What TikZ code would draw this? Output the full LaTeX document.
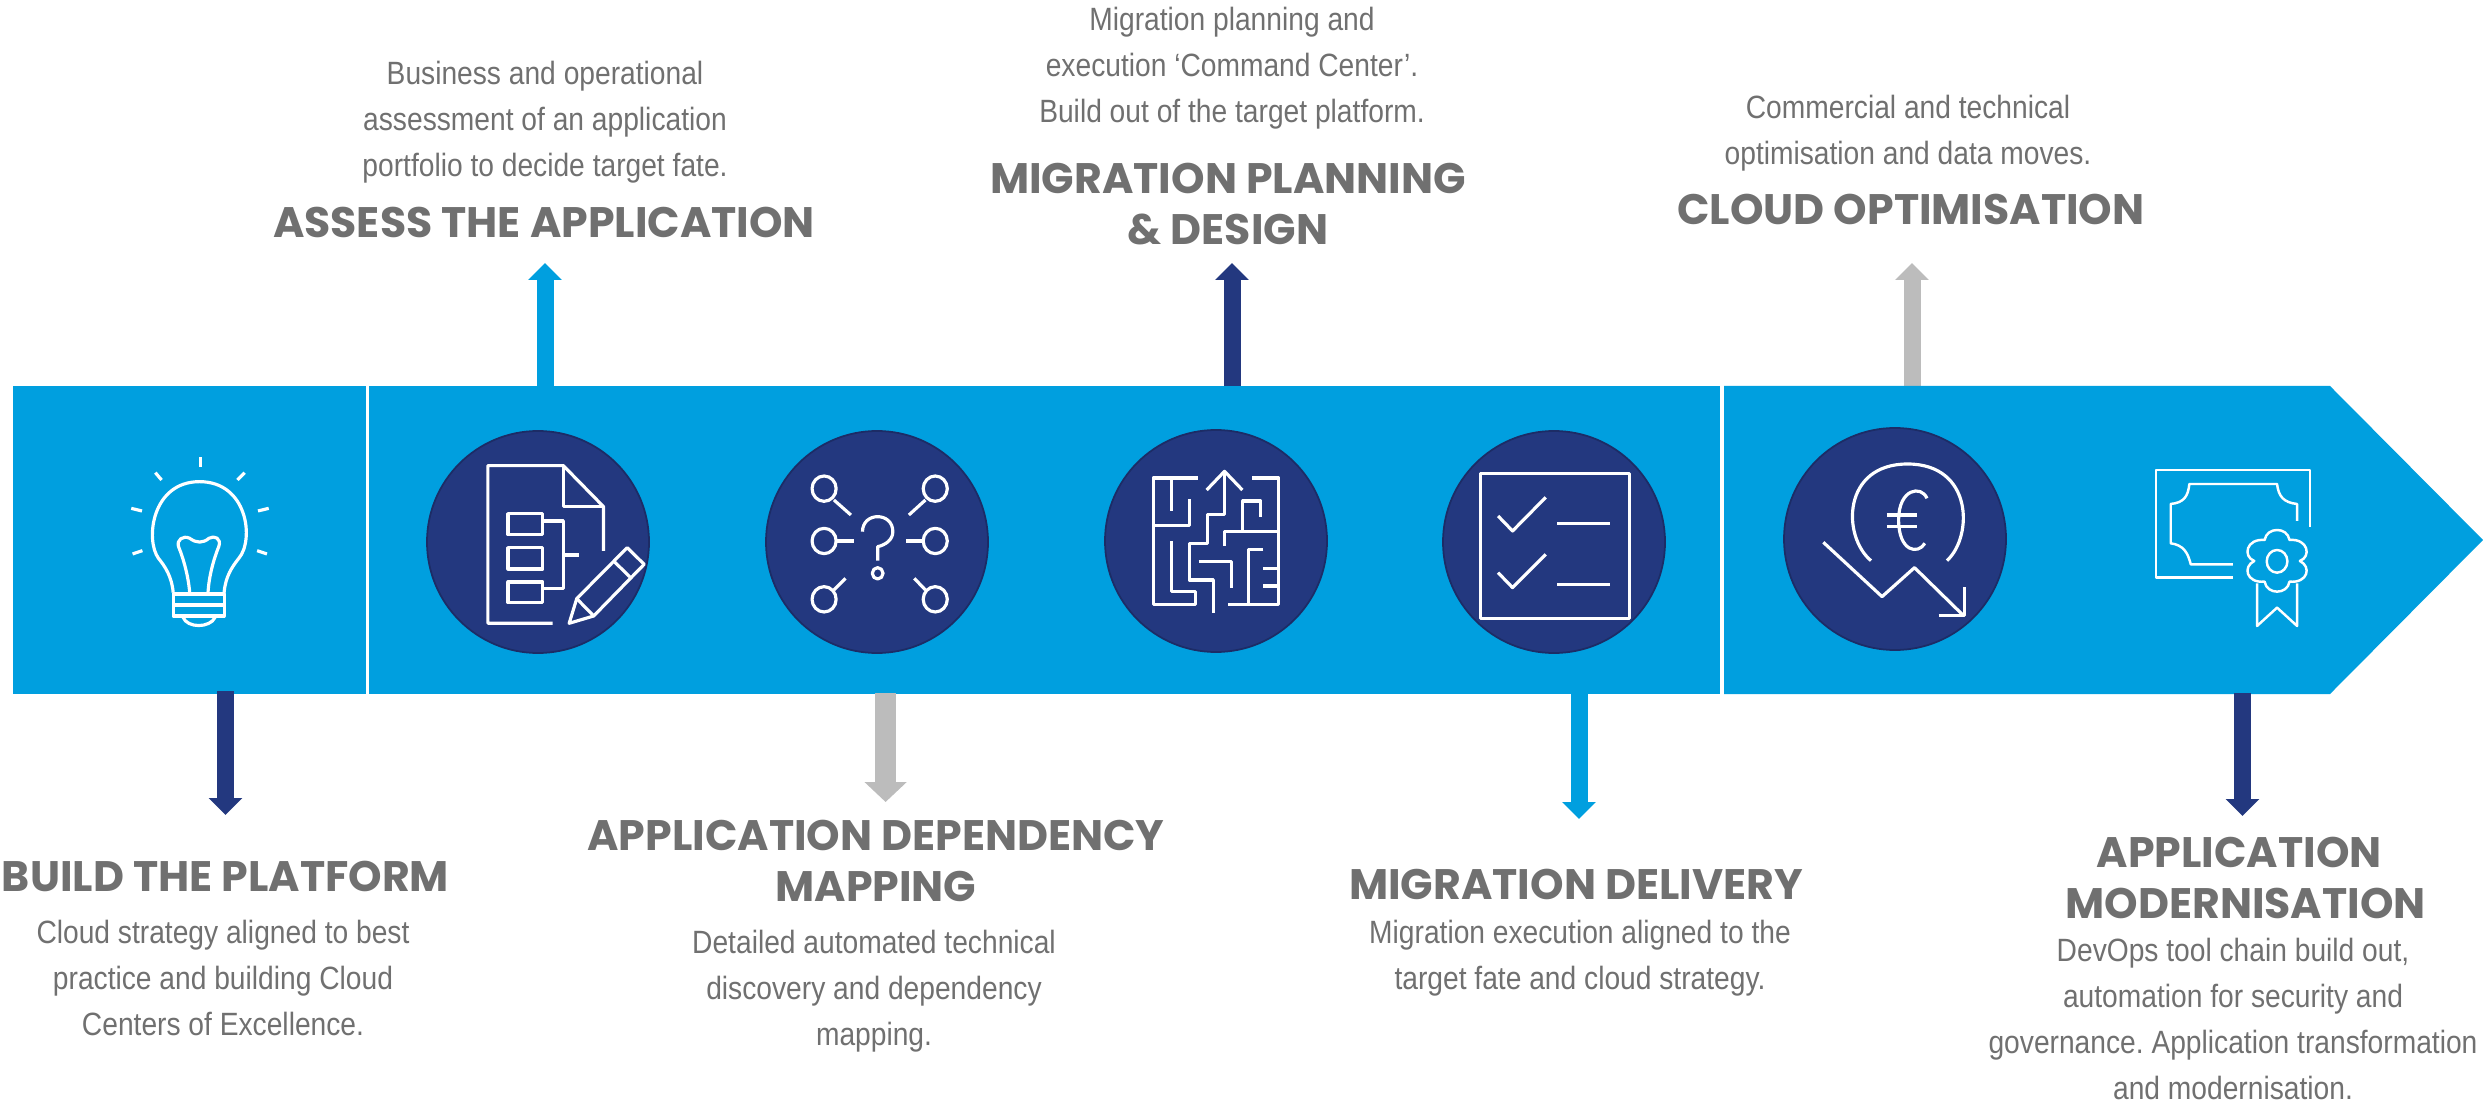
\documentclass[tikz,border=0pt]{standalone}
\usepackage{fontspec}
\newfontfamily\bodyfont[FakeStretch=0.875]{Liberation Sans}
\newfontfamily\headfont{Poppins}
\usetikzlibrary{arrows.meta}
\frenchspacing
\definecolor{bannerblue}{HTML}{009FDF}
\definecolor{deepblue}{HTML}{23387F}
\definecolor{deepedge}{HTML}{1C2C66}
\definecolor{stemgrey}{HTML}{BCBCBC}
\definecolor{textgrey}{HTML}{707070}
\tikzset{
	iconline/.style={white, line width=2.7pt, line join=round},
	thinline/.style={line width=2.1pt},
	iconcircle/.style={circle, minimum size=6.66cm, inner sep=0pt, fill=deepblue, draw=deepedge, line width=1.5pt},
	headline/.style={align=center, text=textgrey, font=\headfont\bfseries\fontsize{36.4}{44}\selectfont},
	bodyline/.style={align=center, text=textgrey, font=\bodyfont\fontsize{27.5}{39}\selectfont},
	stem/.style={line width=14.5pt, -{Triangle[length=14.5pt, width=28pt]}},
	widestem/.style={line width=17.5pt, -{Triangle[length=17pt, width=35pt]}},
}
\begin{document}
\begin{tikzpicture}[x=0.03cm, y=-0.03cm]
			%%%%% START %%%%%
			\useasboundingbox (0, 0) rectangle (2483, 1103);

			\coordinate (buildroot) at (225.5, 691);
			\coordinate (buildtip) at (225.5, 815);
			\coordinate (assessroot) at (545, 390);
			\coordinate (assesstip) at (545, 263);
			\coordinate (dependroot) at (885.6, 693);
			\coordinate (dependtip) at (885.6, 802);
			\coordinate (planroot) at (1232, 390);
			\coordinate (plantip) at (1232, 263);
			\coordinate (deliveryroot) at (1579, 693);
			\coordinate (deliverytip) at (1579, 819);
			\coordinate (cloudroot) at (1912, 390);
			\coordinate (cloudtip) at (1912, 263);
			\coordinate (modernroot) at (2242.5, 693);
			\coordinate (moderntip) at (2242.5, 816);

			\draw[stem, bannerblue] (assessroot) -- (assesstip);
			\draw[stem, deepblue] (planroot) -- (plantip);
			\draw[stem, stemgrey] (cloudroot) -- (cloudtip);

			\fill[bannerblue] (13, 386) rectangle (366, 694);
			\fill[bannerblue] (369, 386) rectangle (1720, 694);
			\fill[bannerblue] (1724, 386) -- (2330, 386) -- (2483, 540) -- (2330, 694) -- (1724, 694) -- cycle;

			\draw[stem, deepblue] (buildroot) -- (buildtip);
			\draw[widestem, stemgrey] (dependroot) -- (dependtip);
			\draw[stem, bannerblue] (deliveryroot) -- (deliverytip);
			\draw[stem, deepblue] (modernroot) -- (moderntip);

			\node[iconcircle] (assessicon) at (538, 542) {};
			\node[iconcircle] (dependicon) at (877, 542) {};
			\node[iconcircle] (planicon) at (1216, 541) {};
			\node[iconcircle] (deliveryicon) at (1554, 542) {};
			\node[iconcircle] (cloudicon) at (1895, 539) {};

			% lamp and document
			\begin{scope}[shift={(0, 370)}, xscale=0.4464, yscale=0.3333, iconline]
				\draw (450, 262) -- (450, 290);
				\draw (348, 308) -- (362, 330);
				\draw (548, 308) -- (532, 330);
				\draw (294, 415) -- (318, 423);
				\draw (602, 415) -- (578, 423);
				\draw (297, 552) -- (319, 542);
				\draw (598, 552) -- (576, 542);
				\draw (388, 668) .. controls (385, 620) and (370, 590) .. (355, 565) .. controls (325, 510) and (340, 335) .. (447, 335) .. controls (555, 335) and (570, 510) .. (535, 565) .. controls (520, 590) and (505, 620) .. (502, 668);
				\draw (425, 668) .. controls (422, 620) and (412, 570) .. (400, 530) .. controls (395, 510) and (410, 495) .. (425, 505) .. controls (440, 520) and (455, 520) .. (468, 505) .. controls (480, 495) and (497, 505) .. (490, 530) .. controls (478, 570) and (468, 620) .. (466, 668);
				\draw (388, 672) -- (502, 672) -- (502, 738) -- (388, 738) -- cycle;
				\draw (388, 705) -- (502, 705);
				\draw (410, 742) .. controls (420, 775) and (470, 775) .. (482, 742);

				\draw (1238, 760) -- (1093, 760) -- (1093, 287) -- (1262, 287) -- (1352, 410) -- (1352, 543);
				\draw (1262, 287) -- (1262, 410) -- (1352, 410);
				\draw (1138, 431) rectangle (1216, 494);
				\draw (1138, 533) rectangle (1216, 597);
				\draw (1138, 636) rectangle (1216, 698);
				\draw (1216, 453) -- (1262, 453) -- (1262, 656) -- (1216, 656);
				\draw (1262, 555) -- (1298, 555);
				\draw (1275, 760) -- (1292, 686) -- (1405, 533) -- (1443, 583) -- (1330, 738) -- cycle;
				\draw (1292, 686) -- (1330, 738);
				\draw (1376, 575) -- (1412, 622);
			\end{scope}

			% lenses and maze
			\begin{scope}[shift={(700, 370)}, xscale=0.4464, yscale=0.3333, iconline]
				\foreach \lensx/\lensy in {278/356, 527/356, 278/513, 527/513, 278/688, 527/688}
					\draw (\lensx, \lensy) ellipse [x radius=27, y radius=38];
				\draw (300, 390) -- (338, 435);
				\draw (505, 390) -- (468, 435);
				\draw (305, 513) -- (345, 513);
				\draw (500, 513) -- (462, 513);
				\draw (300, 660) -- (326, 625);
				\draw (505, 660) -- (480, 625);
				\draw (364, 485) .. controls (364, 425) and (432, 425) .. (432, 485) .. controls (432, 510) and (415, 525) .. (398, 530) -- (398, 572);
				\draw (398, 610) ellipse [x radius=12, y radius=17];

				\draw (1115, 324) -- (1015, 324) -- (1015, 703) -- (1110, 703) -- (1110, 665) -- (1056, 665) -- (1056, 513);
				\draw (1056, 324) -- (1056, 423);
				\draw (1015, 467) -- (1096, 467) -- (1096, 386);
				\draw (1175, 304) -- (1175, 433) -- (1136, 433) -- (1136, 521) -- (1096, 521) -- (1096, 630) -- (1150, 630) -- (1150, 730);
				\draw (1135, 360) -- (1175, 304) -- (1215, 360);
				\draw (1237, 324) -- (1296, 324) -- (1296, 703) -- (1183, 703);
				\draw (1256, 440) -- (1256, 393) -- (1216, 393) -- (1216, 484);
				\draw (1175, 527) -- (1175, 484) -- (1296, 484);
				\draw (1117, 575) -- (1190, 575) -- (1190, 655);
				\draw (1262, 538) -- (1228, 538) -- (1228, 703);
				\draw (1262, 595) -- (1296, 595);
				\draw (1262, 648) -- (1296, 648);
			\end{scope}

			% checklist, euro and certificate
			\begin{scope}[shift={(1400, 370)}, xscale=0.6906, yscale=0.3333, iconline]
				\draw (116, 310) rectangle (332, 745);
				\draw (142, 438) -- (163, 483) -- (211, 382);
				\draw (142, 608) -- (163, 653) -- (211, 553);
				\draw (228, 461) -- (304, 461);
				\draw (228, 643) -- (304, 643);

				\draw (682, 572) .. controls (640, 500) and (640, 282) .. (735, 282) .. controls (830, 282) and (830, 500) .. (792, 572);
				\draw (763, 385) .. controls (755, 345) and (722, 355) .. (722, 450) .. controls (722, 545) and (750, 555) .. (760, 520);
				\draw (705, 435) -- (748, 435);
				\draw (705, 470) -- (748, 470);
				\draw (613, 517) -- (698, 680) -- (745, 593) -- (815, 735);
				\draw (780, 737) -- (817, 737) -- (817, 652);

				\draw[thinline] (1318, 470) -- (1318, 300) -- (1095, 300) -- (1095, 623) -- (1206, 623);
				\draw[thinline] (1299, 453) -- (1299, 402) .. controls (1280, 398) and (1272, 380) .. (1270, 342) -- (1143, 342) .. controls (1141, 380) and (1135, 398) .. (1116, 402) -- (1116, 520) .. controls (1135, 525) and (1141, 550) .. (1145, 583) -- (1206, 583);
				\draw[thinline] (1252, 510) .. controls (1255, 470) and (1285, 470) .. (1288, 510) .. controls (1315, 505) and (1320, 560) .. (1303, 573) .. controls (1320, 590) and (1315, 640) .. (1288, 635) .. controls (1285, 675) and (1255, 675) .. (1252, 635) .. controls (1225, 640) and (1220, 590) .. (1237, 573) .. controls (1220, 560) and (1225, 505) .. (1252, 510) -- cycle;
				\draw[thinline] (1270, 574) ellipse [x radius=15, y radius=34];
				\draw[thinline] (1241, 640) -- (1241, 768) -- (1270, 713) -- (1299, 768) -- (1299, 640);
			\end{scope}

			\node[bodyline] (assesstext) at (545, 122) {Business and operational\\assessment of an application\\portfolio to decide target fate.};
			\node[headline] (assesshead) at (544, 222) {ASSESS THE APPLICATION};

			\node[bodyline] (plantext) at (1232, 68) {Migration planning and\\execution ‘Command Center’.\\Build out of the target platform.};
			\node[headline] (planhead) at (1228, 204) {MIGRATION PLANNING\\\& DESIGN};

			\node[bodyline] (cloudtext) at (1908, 133) {Commercial and technical\\optimisation and data moves.};
			\node[headline] (cloudhead) at (1911, 209) {CLOUD OPTIMISATION};

			\node[headline] (buildhead) at (225.5, 876) {BUILD THE PLATFORM};
			\node[bodyline] (buildtext) at (223, 978) {Cloud strategy aligned to best\\practice and building Cloud\\Centers of Excellence.};

			\node[headline] (dependhead) at (876, 861) {APPLICATION DEPENDENCY\\MAPPING};
			\node[bodyline] (dependtext) at (874, 991) {Detailed automated technical\\discovery and dependency\\mapping.};

			\node[headline] (deliveryhead) at (1576, 884) {MIGRATION DELIVERY};
			\node[bodyline] (deliverytext) at (1580, 958) {Migration execution aligned to the\\target fate and cloud strategy.};

			\node[headline] (modernhead) at (2245.6, 878) {APPLICATION\hspace*{11pt}\\MODERNISATION};
			\node[bodyline] (moderntext) at (2233, 1019) {DevOps tool chain build out,\\automation for security and\\governance. Application transformation\\and modernisation.};
			%%%%% END %%%%%
\end{tikzpicture}
\end{document}
